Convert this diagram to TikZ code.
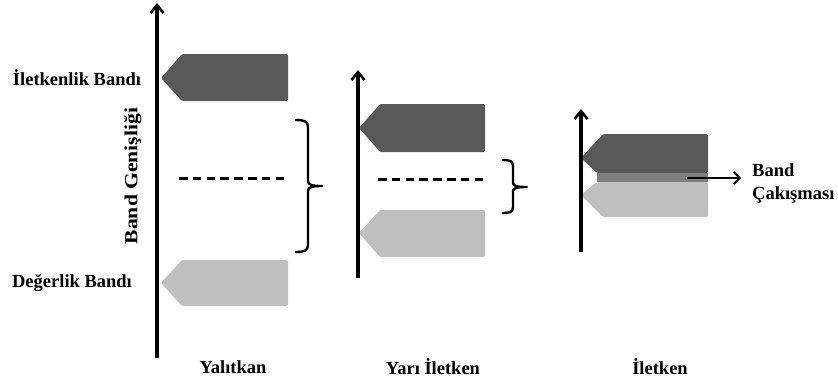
\documentclass[tikz,border=0pt]{standalone}
\usepackage{fontspec}
\setmainfont{Liberation Serif}
\usetikzlibrary{arrows.meta}
\definecolor{darkband}{HTML}{595959}
\definecolor{lightband}{HTML}{BFBFBF}
\definecolor{midband}{HTML}{7F7F7F}
\tikzset{
  axis/.style={line width=3.3pt,-{Straight Barb[length=8pt,width=13pt,line width=2.6pt]}},
  gapline/.style={line width=3pt,dash pattern=on 8.5pt off 5.3pt},
  bracestyle/.style={line width=2.4pt,line join=round},
  lbl/.style={font=\fontsize{18.5}{21}\selectfont\bfseries,inner sep=0pt}
}
\begin{document}
\begin{tikzpicture}[x=1pt,y=-1pt]
\useasboundingbox (0,0) rectangle (838,381);
% ---------- Yalitkan ----------
\fill[darkband,rounded corners=1.5pt] (161,78) -- (182,54) -- (288,54) -- (288,101) -- (182,101) -- cycle;
\fill[lightband,rounded corners=1.5pt] (161,283) -- (182,260) -- (288,260) -- (288,306) -- (182,306) -- cycle;
\coordinate (a1b) at (157,358);
\coordinate (a1t) at (157,3);
\draw[axis] (a1b) -- (a1t);
\coordinate (d1a) at (179,178);
\coordinate (d1b) at (284,178);
\draw[gapline] (d1a) -- (d1b);
\coordinate (b1t) at (295,120);
\coordinate (b1m) at (322,186);
\coordinate (b1b) at (295,252);
\draw[bracestyle] (b1t) .. controls (304,120) and (308,121) .. (308,127) -- (308,181)
  .. controls (308,185) and (312,186) .. (b1m)
  .. controls (312,186) and (308,187) .. (308,191) -- (308,245)
  .. controls (308,251) and (304,252) .. (b1b);
\node[lbl] (cb) at (77,78) {İletkenlik Bandı};
\node[lbl] (vb) at (72,283) {Değerlik Bandı};
\node[lbl,rotate=90] (bg) at (133,176) {\scalebox{1.17}[1]{Band Genişliği}};
\node[lbl] (t1) at (233,367) {Yalıtkan};
% ---------- Yari Iletken ----------
\fill[darkband,rounded corners=1.5pt] (359,128) -- (380,104) -- (485,104) -- (485,152) -- (380,152) -- cycle;
\fill[lightband,rounded corners=1.5pt] (359,233) -- (380,210) -- (485,210) -- (485,257) -- (380,257) -- cycle;
\coordinate (a2b) at (358,278);
\coordinate (a2t) at (358,70);
\draw[axis] (a2b) -- (a2t);
\coordinate (d2a) at (378,179);
\coordinate (d2b) at (483,179);
\draw[gapline] (d2a) -- (d2b);
\coordinate (b2t) at (502,160);
\coordinate (b2m) at (527,187);
\coordinate (b2b) at (502,213);
\draw[bracestyle] (b2t) .. controls (510,160) and (513,161) .. (513,166) -- (513,183)
  .. controls (513,186) and (517,187) .. (b2m)
  .. controls (517,187) and (513,188) .. (513,191) -- (513,207)
  .. controls (513,212) and (510,213) .. (b2b);
\node[lbl] (t2) at (433,367) {Yarı İletken};
% ---------- Iletken ----------
\fill[darkband,rounded corners=1.5pt] (581,158) -- (603,134) -- (708,134) -- (708,173) -- (597,173) -- cycle;
\fill[midband] (597,173) rectangle (708,182);
\fill[lightband,rounded corners=1.5pt] (581,195) -- (597,182) -- (708,182) -- (708,217) -- (603,217) -- cycle;
\coordinate (a3b) at (581,252);
\coordinate (a3t) at (581,109);
\draw[axis] (a3b) -- (a3t);
\coordinate (ov) at (687,178);
\coordinate (ovend) at (741,178);
\draw[line width=2.2pt,-{Straight Barb[length=6pt,width=12pt,line width=1.9pt]}] (ov) -- (ovend);
\node[lbl,anchor=west] (bc1) at (752,170) {Band};
\node[lbl,anchor=west] (bc2) at (752,195) {Çakışması};
\node[lbl] (t3) at (660,367) {İletken};
\end{tikzpicture}
\end{document}
